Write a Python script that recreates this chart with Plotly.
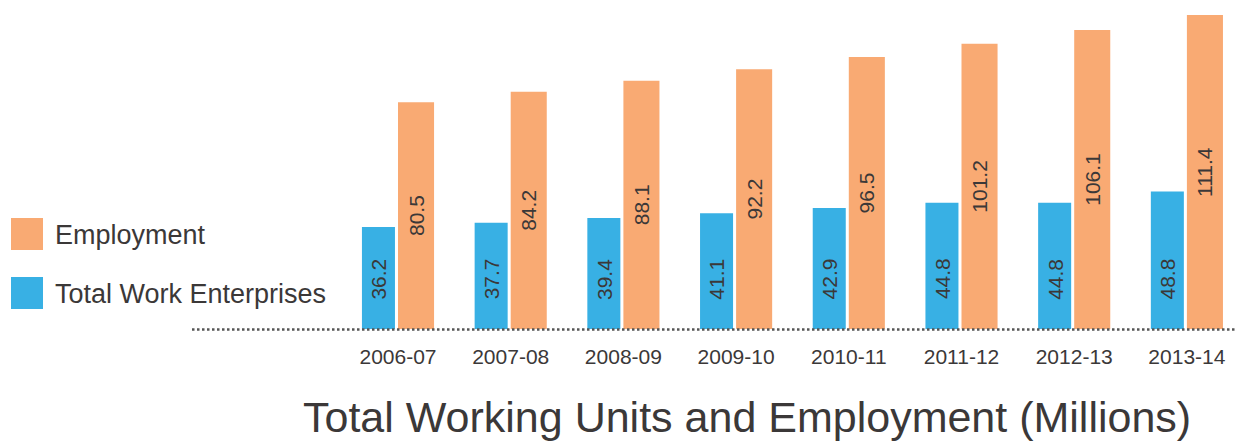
import plotly.graph_objects as go

years = ["2006-07", "2007-08", "2008-09", "2009-10", "2010-11", "2011-12", "2012-13", "2013-14"]
enterprises = [36.2, 37.7, 39.4, 41.1, 42.9, 44.8, 44.8, 48.8]
employment = [80.5, 84.2, 88.1, 92.2, 96.5, 101.2, 106.1, 111.4]

BLUE = "#38b0e4"
ORANGE = "#f9aa73"
TEXT = "#3b3838"
FONT = "Liberation Sans, Arial, sans-serif"

W, H = 1237, 442
BASE_PX = 329
TOP_PX = 10
YMAX = 113.2

def px_x(p):
    return p / W

def px_y(p):
    return (H - p) / H

fig = go.Figure()
fig.add_trace(go.Bar(
    x=years, y=enterprises, name="Total Work Enterprises",
    marker=dict(color=BLUE, line=dict(width=0)),
    width=0.293, offset=-0.32,
    hoverinfo="x+y",
))
fig.add_trace(go.Bar(
    x=years, y=employment, name="Employment",
    marker=dict(color=ORANGE, line=dict(width=0)),
    width=0.32, offset=0.0,
    text=[f"{v:.1f}" for v in employment],
    textposition="inside", insidetextanchor="middle", textangle=-90,
    textfont=dict(family=FONT, size=21, color=TEXT),
    hoverinfo="x+y",
))

annotations = []
for yr, v in zip(years, enterprises):
    annotations.append(dict(
        x=yr, y=17.7, xref="x", yref="y", text=f"{v:.1f}",
        textangle=-90, showarrow=False, xshift=-19.5,
        xanchor="center", yanchor="middle",
        font=dict(family=FONT, size=21, color=TEXT),
    ))

# Legend (drawn manually)
legend_items = [("Employment", ORANGE, 218), ("Total Work Enterprises", BLUE, 277)]
shapes = []
for name, col, top in legend_items:
    shapes.append(dict(type="rect", xref="paper", yref="paper",
                       x0=px_x(11), x1=px_x(43), y0=px_y(top + 32), y1=px_y(top),
                       fillcolor=col, line=dict(width=0)))
    annotations.append(dict(x=px_x(53), y=px_y(top + 17), xref="paper", yref="paper",
                            text=name, showarrow=False, xanchor="left", yanchor="middle",
                            font=dict(family=FONT, size=27, color=TEXT)))

# Dotted baseline
shapes.append(dict(type="line", xref="paper", yref="paper",
                   x0=px_x(192), x1=1.0, y0=px_y(BASE_PX + 0.5), y1=px_y(BASE_PX + 0.5),
                   line=dict(color="#555555", width=2.5, dash="2.5px,2.5px"), layer="above"))

annotations.append(dict(x=px_x(747), y=px_y(417), xref="paper", yref="paper",
                        text="Total Working Units and Employment (Millions)",
                        showarrow=False, xanchor="center", yanchor="middle",
                        font=dict(family=FONT, size=43, color=TEXT)))

cat_w = 112.7
left_px = 192
start = -(398 - left_px) / cat_w
end = start + (W - left_px) / cat_w

fig.update_layout(
    width=W, height=H,
    margin=dict(l=0, r=0, t=0, b=0),
    paper_bgcolor="white", plot_bgcolor="white",
    barmode="overlay",
    showlegend=False,
    xaxis=dict(domain=[px_x(left_px), 1.0], range=[start, end], type="category",
               showgrid=False, zeroline=False, showline=False,
               ticks="outside", ticklen=9, tickcolor="rgba(0,0,0,0)",
               tickfont=dict(family=FONT, size=21, color=TEXT)),
    yaxis=dict(domain=[px_y(BASE_PX), px_y(TOP_PX)], range=[0, YMAX],
               showgrid=False, zeroline=False, showline=False, showticklabels=False),
    shapes=shapes,
    annotations=annotations,
)

fig.write_html("out.html",
               config={"displayModeBar": False},
               post_script="document.body.style.margin='0';document.body.style.overflow='hidden';")
